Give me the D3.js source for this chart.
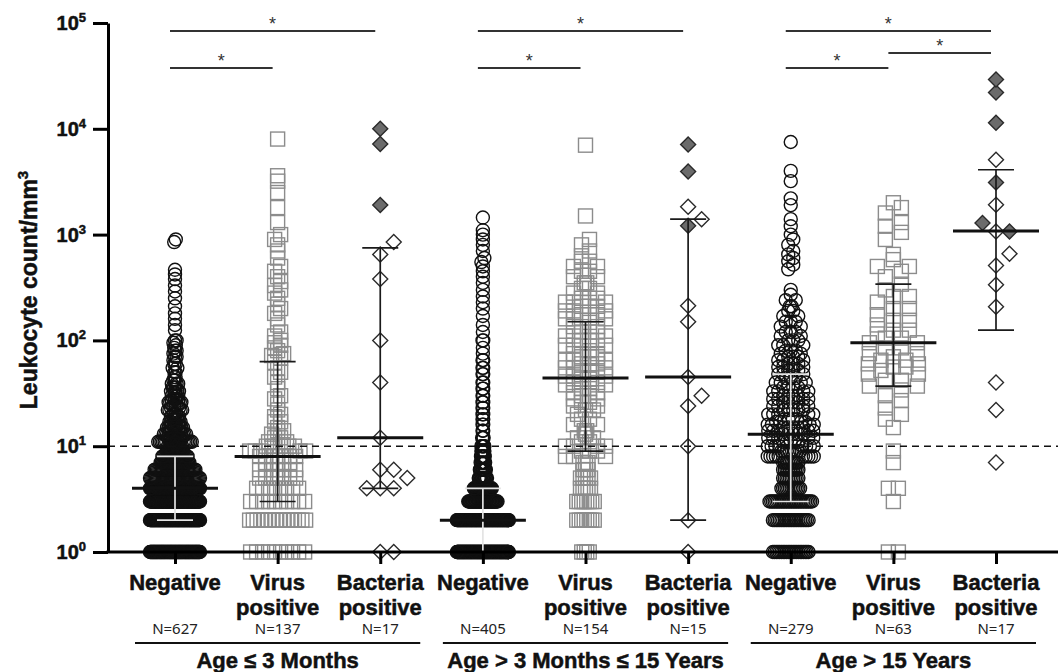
<!DOCTYPE html>
<html>
<head>
<meta charset="utf-8">
<script src="https://cdn.jsdelivr.net/npm/d3@7"></script>
<style>
  body { margin: 0; background: #fff; }
  svg { display: block; font-family: "Liberation Sans", Arial, sans-serif; }
  .cat { font-weight: bold; font-size: 22px; fill: #111; stroke: #111; stroke-width: 0.5px; }
  .nlab { font-family: "Noto Sans", sans-serif; font-size: 15px; fill: #222; }
  .tick-lab { font-weight: bold; font-size: 20px; fill: #111; stroke: #111; stroke-width: 0.5px; }
</style>
</head>
<body>
<svg width="1058" height="672"></svg>
<script>
// ---- data ----
const groupLabels = ['Age \u2264 3 Months', 'Age > 3 Months \u2264 15 Years', 'Age > 15 Years'];
const typeLabels = [['Negative'], ['Virus', 'positive'], ['Bacteria', 'positive']];
const nCounts = [627, 137, 17, 405, 154, 15, 279, 63, 17];
const medians = [4, 8, 12, 2, 44, 45, 13, 95, 1080];
const q1 = [2, 3, 4, 1, 9, 2, 3, 37, 125];
const q3 = [8, 63, 750, 4, 150, 1400, 48, 340, 4100];
const yTicks = [1, 10, 100, 1000, 10000, 100000];
const cutoff = 10;

// [value, count]
const neg1 = [[1,95],[2,105],[3,80],[4,65],[5,45],[6,35],[7,25],[8,22],[9,15],[10,13],
  [11,12],[12,10],[13,8],[14,7],[15,6],[16,5],[17,4],[18,4],[19,3],[20,3],
  [22,4],[23,2],[24,4],[26,4],[27,2],[28,3],[30,3],[32,2],
  [33,3],[36,3],[39,3],[42,2],[45,2],[50,2],[55,2],[60,2],[65,1],[70,2],[75,1],[80,2],[85,1],[90,1],[95,1],[100,2],
  [125,1],[140,1],[160,1],[180,1],[210,1],[250,1],[290,1],[330,1],[380,1],[420,1],[465,1],[850,1],[900,1]];
const vir1 = [[1,10],[2,16],[3,10],[4,8],[5,7],[6,7],[7,5],[8,7],[9,5],[10,6],
  [11,2],[12,2],[13,1],[14,2],[15,1],[17,2],[19,1],[20,1],
  [22,1],[25,1],[28,1],[30,1],[35,1],[40,1],[45,1],[50,1],[55,1],[62,1],
  [68,1],[72,1],[75,1],[80,1],[85,1],[90,1],[95,1],[100,1],
  [110,1],[120,1],[140,1],[160,1],[180,1],[200,1],[220,1],[250,1],[280,1],[300,1],
  [330,1],[360,1],[400,1],[450,1],[500,1],[600,1],[700,1],[800,1],[900,1],[1000,1],
  [1300,1],[1800,1],[2500,1],[3200,1],[3600,1],[8000,1]];
const neg2 = [[1,150],[2,95],[3,40],[4,25],[5,12],[6,9],[7,7],[8,6],[9,5],[10,5],
  [12,3],[14,2],[16,2],[18,2],[20,2],[23,2],[26,2],
  [30,2],[35,2],[40,2],[48,2],[55,2],[65,2],[75,1],[85,1],
  [100,2],[120,1],[140,1],[170,1],[200,1],[230,1],[260,1],[300,1],[350,1],[400,1],[450,1],
  [500,1],[550,1],[600,1],[700,1],[800,1],[900,1],[1000,1],[1100,1],[1450,1]];
const vir2 = [[1,4],[2,8],[3,8],[4,5],[5,5],[6,3],[7,3],[8,3],[9,3],[10,4],
  [11,2],[12,2],[13,1],[14,2],[16,2],[18,2],[20,1],
  [22,2],[24,2],[26,2],[28,2],[30,2],[32,2],[35,2],[38,2],[40,2],[43,2],
  [46,3],[50,3],[55,3],[60,3],[65,3],[70,3],[75,3],[80,1],[90,3],[100,3],[110,3],[120,3],[135,3],[148,1],
  [160,3],[175,3],[190,3],[210,3],[230,3],[250,3],[280,2],[310,2],[350,2],[400,2],[450,2],[500,2],[560,2],[630,1],[700,1],
  [800,1],[900,1],[1500,1],[7000,1]];
const neg3 = [[1,22],[2,22],[3,26],[4,12],[5,10],[6,10],[7,10],[8,10],[9,8],[10,8],
  [11,5],[12,5],[13,5],[14,5],[15,5],[16,4],[17,4],[18,4],[20,5],[22,5],[24,4],[26,4],[28,4],[30,4],[33,4],[36,4],[40,4],[44,3],
  [48,3],[52,3],[56,3],[60,3],[65,3],[70,3],[75,2],[80,3],[90,3],[100,3],[110,2],[120,3],[135,2],[150,3],[170,2],[190,2],[210,2],[240,2],[270,1],[300,1],
  [470,1],[520,1],[560,1],[600,1],[650,1],[700,1],[800,1],[900,1],[1000,1],[1200,1],[1400,1],[1900,1],[2200,1],[3200,1],[4000,1],[7500,1]];
const vir3 = [[1,2],[3,1],[4,2],[7,1],[9,1],
  [15,1],[18,1],[20,1],[23,1],[27,1],[30,1],[34,1],[37,2],
  [42,2],[48,2],[52,1],[56,2],[60,2],[65,2],[70,1],[75,2],[85,2],[95,2],
  [105,2],[115,1],[125,2],[140,1],[155,2],[175,1],[200,2],[230,1],[260,2],[300,1],[340,1],
  [400,1],[450,1],[500,2],[580,1],[650,1],[900,1],[1050,1],[1200,1],[1300,1],[1600,1],[1800,1],[2000,1]];

// bacteria positive: open and filled (grey) diamonds, individual values
const bac1Open = [850, 650, 380, 100, 40, 12, 6, 6, 5, 4, 4, 4, 1, 1];
const bac1Filled = [10000, 7200, 1900];
const bac2Open = [1830, 1400, 213, 150, 45, 30, 24, 10, 2, 1];
const bac2Filled = [7100, 3950, 1210];
const bac3Open = [5100, 1910, 1070, 660, 510, 335, 208, 40, 22, 7];
const bac3Filled = [29200, 22000, 11400, 3100, 1290, 1070];

// significance brackets: [from category, to category, level]
const sigBars = [[0,2,0],[0,1,2],[3,5,0],[3,4,2],[6,8,0],[6,7,2],[7,8,1]];

// ---- chart ----
const svg = d3.select('svg');
const y = d3.scaleLog().domain([1, 1e5]).range([552, 23]);
const x = d3.scalePoint().domain(d3.range(9)).range([175, 996]);

const expand = pairs => pairs.flatMap(([v, c]) => Array(c).fill(v));

// prism-like row scatter for big groups
function rowLayout(vals, o) {
  const pts = vals.map(v => ({v, py: y(v)})).sort((a, b) => b.py - a.py);
  const rows = [];
  let cur = null;
  pts.forEach(p => {
    if (!cur || cur[0].py - p.py > o.binH) { cur = []; rows.push(cur); }
    cur.push(p);
  });
  rows.forEach(r => {
    const n = r.length;
    const same = new Set(r.map(p => p.v)).size === 1;
    const w = Math.min((n - 1) * (same ? o.sameGap : o.gap), o.maxW);
    const step = n > 1 ? w / (n - 1) : 0;
    const slots = d3.range(n).map(k => -w / 2 + k * step)
      .sort((a, b) => Math.abs(a) - Math.abs(b) || b - a);
    r.sort((a, b) => b.v - a.v).forEach((p, i) => p.dx = slots[i]);
  });
  return pts;
}

// simple dodge for the small groups
function dodge(items, D, step) {
  const placed = [];
  items.sort((a, b) => b.py - a.py).forEach(p => {
    for (let k = 0; k < 40; k++) {
      const off = k === 0 ? 0 : (k % 2 ? 1 : -1) * Math.ceil(k / 2) * step;
      if (placed.every(q => Math.hypot(q.dx - off, q.py - p.py) >= D)) { p.dx = off; break; }
    }
    placed.push(p);
  });
  return items;
}

const bigSeries = [neg1, vir1, null, neg2, vir2, null, neg3, vir3, null];
const opts = [
  {binH: 4, gap: 1.6, sameGap: 1.2, maxW: 50},
  {binH: 5, gap: 6, sameGap: 6, maxW: 56},
  null,
  {binH: 4, gap: 3, sameGap: 0.75, maxW: 52},
  {binH: 6, gap: 8, sameGap: 2.5, maxW: 46},
  null,
  {binH: 6, gap: 5, sameGap: 1.7, maxW: 46},
  {binH: 8, gap: 16, sameGap: 10, maxW: 50},
  null
];
const bacOpen = [bac1Open, bac2Open, bac3Open];
const bacFilled = [bac1Filled, bac2Filled, bac3Filled];

const marks = svg.append('g');
bigSeries.forEach((s, i) => {
  if (!s) return;
  const pts = rowLayout(expand(s), opts[i]);
  const g = marks.append('g');
  if (i % 3 === 0) {
    g.selectAll('circle').data(pts).join('circle')
      .attr('cx', p => x(i) + p.dx).attr('cy', p => p.py).attr('r', 6.5)
      .attr('fill', 'none').attr('stroke', '#111').attr('stroke-width', 1.4);
  } else {
    g.selectAll('rect').data(pts).join('rect')
      .attr('x', p => x(i) + p.dx - 7).attr('y', p => p.py - 7)
      .attr('width', 14).attr('height', 14)
      .attr('fill', 'none').attr('stroke', '#8c8c8c').attr('stroke-width', 1.4);
  }
});

const diamond = 'M0,-7.5L7.5,0L0,7.5L-7.5,0Z';
[0, 1, 2].forEach(gi => {
  const i = gi * 3 + 2;
  const items = bacOpen[gi].map(v => ({v, py: y(v), filled: false}))
    .concat(bacFilled[gi].map(v => ({v, py: y(v), filled: true})));
  dodge(items, 13, 13.5);
  marks.append('g').selectAll('path').data(items).join('path')
    .attr('d', diamond)
    .attr('transform', p => `translate(${x(i) + p.dx},${p.py})`)
    .attr('fill', p => p.filled ? '#6b6b6b' : 'none')
    .attr('stroke', '#2a2a2a').attr('stroke-width', 1.4);
});

// cut-off line
svg.append('line')
  .attr('x1', 108).attr('x2', 1058)
  .attr('y1', y(cutoff)).attr('y2', y(cutoff))
  .attr('stroke', '#111').attr('stroke-width', 1.6).attr('stroke-dasharray', '7,5');

// median + IQR
const stats = svg.append('g');
d3.range(9).forEach(i => {
  const c = i % 3 === 0 ? '#e4e4e4' : '#1a1a1a';
  const cx = x(i);
  stats.append('line').attr('x1', cx).attr('x2', cx)
    .attr('y1', y(q1[i])).attr('y2', y(q3[i]))
    .attr('stroke', c).attr('stroke-width', 1.7);
  [q1[i], q3[i]].forEach(v => {
    stats.append('line').attr('x1', cx - 18).attr('x2', cx + 18)
      .attr('y1', y(v)).attr('y2', y(v))
      .attr('stroke', c).attr('stroke-width', 1.7);
  });
  stats.append('line').attr('x1', cx - 43).attr('x2', cx + 43)
    .attr('y1', y(medians[i])).attr('y2', y(medians[i]))
    .attr('stroke', '#111').attr('stroke-width', 3);
});

// axes
const yAxis = svg.append('g')
  .attr('transform', 'translate(108,0)')
  .call(d3.axisLeft(y).tickValues(yTicks).tickSize(15).tickSizeOuter(0).tickFormat(''));
yAxis.select('.domain').attr('stroke', '#000').attr('stroke-width', 3);
yAxis.selectAll('.tick line').attr('stroke', '#000').attr('stroke-width', 3);

yTicks.forEach(t => {
  const txt = svg.append('text').attr('class', 'tick-lab')
    .attr('x', 86).attr('y', y(t) + 7).attr('text-anchor', 'end');
  txt.append('tspan').text('10');
  txt.append('tspan').attr('dy', -8).attr('font-size', 13).text(Math.round(Math.log10(t)));
});

svg.append('line')
  .attr('x1', 106.5).attr('x2', 1058).attr('y1', 552).attr('y2', 552)
  .attr('stroke', '#000').attr('stroke-width', 3);
const xAxis = svg.append('g')
  .attr('transform', 'translate(0,552)')
  .call(d3.axisBottom(x).tickSize(12).tickFormat(''));
xAxis.select('.domain').remove();
xAxis.selectAll('.tick line').attr('stroke', '#000').attr('stroke-width', 3);

const ytitle = svg.append('text')
  .attr('transform', 'translate(37,290) rotate(-90)')
  .attr('text-anchor', 'middle')
  .attr('font-weight', 'bold').attr('font-size', 23)
  .attr('fill', '#111').attr('stroke', '#111').attr('stroke-width', 0.5);
ytitle.append('tspan').text('Leukocyte count/mm');
ytitle.append('tspan').attr('dy', -9).attr('font-size', 15).text('3');

// category labels
d3.range(9).forEach(i => {
  const lines = typeLabels[i % 3];
  lines.forEach((l, k) => {
    svg.append('text').attr('class', 'cat')
      .attr('x', x(i)).attr('y', 590 + k * 25)
      .attr('text-anchor', 'middle').text(l);
  });
  svg.append('text').attr('class', 'nlab')
    .attr('x', x(i)).attr('y', 634)
    .attr('text-anchor', 'middle').text('N=' + nCounts[i]);
});

groupLabels.forEach((g, gi) => {
  const a = x(gi * 3), b = x(gi * 3 + 2);
  svg.append('line').attr('x1', a - 40).attr('x2', b + 40)
    .attr('y1', 643).attr('y2', 643)
    .attr('stroke', '#111').attr('stroke-width', 2);
  svg.append('text').attr('class', 'cat')
    .attr('x', (a + b) / 2).attr('y', 668)
    .attr('text-anchor', 'middle').text(g);
});

// significance bars
const levelY = [31, 53, 68];
sigBars.forEach(([a, b, lv]) => {
  const x1 = x(a) - 5, x2 = x(b) - 5, ly = levelY[lv];
  svg.append('line').attr('x1', x1).attr('x2', x2).attr('y1', ly).attr('y2', ly)
    .attr('stroke', '#333').attr('stroke-width', 2);
  svg.append('text').attr('x', (x1 + x2) / 2).attr('y', ly - 1)
    .attr('text-anchor', 'middle').attr('font-size', 18).attr('fill', '#333').text('*');
});
</script>
</body>
</html>
